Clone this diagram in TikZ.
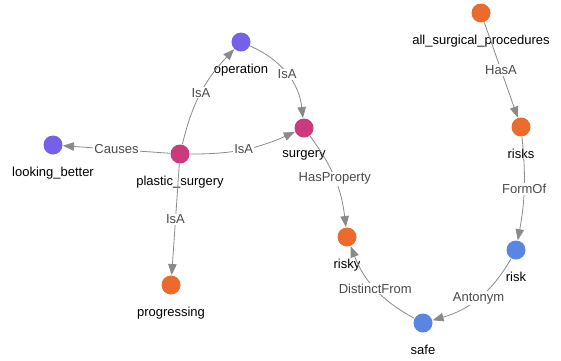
\documentclass[tikz,border=0pt]{standalone}
\usepackage{fontspec}
\setmainfont{Liberation Sans}
\usetikzlibrary{arrows.meta}
\definecolor{cpurple}{HTML}{7461E8}
\definecolor{cmagenta}{HTML}{CC3A7E}
\definecolor{corange}{HTML}{EB6A2E}
\definecolor{cblue}{HTML}{5886E2}
\definecolor{linegray}{HTML}{8A8A8A}
\definecolor{labgray}{HTML}{4A4A4A}
\tikzset{x=1pt,y=-1pt,
  concept/.style={circle,minimum size=19pt,inner sep=0pt,outer sep=0.5pt},
  every label/.style={font=\fontsize{13}{15}\selectfont,text=black},
  label distance=8.5pt,
  rel/.style={draw=linegray,line width=0.8pt,-{Triangle[length=11pt,width=8.5pt]}},
  rlab/.style={fill=white,inner sep=1pt,text=labgray,font=\fontsize{13}{15}\selectfont}}

\begin{document}
\begin{tikzpicture}
    \useasboundingbox (0,0) rectangle (561,360);
    \node[concept,fill=cpurple,label=below:operation] (operation) at (241,42) {};
    \node[concept,fill=cpurple,label=below:looking\_better] (looking) at (53,145) {};
    \node[concept,fill=cmagenta,label=below:plastic\_surgery] (plastic) at (180,154) {};
    \node[concept,fill=cmagenta,label=below:surgery] (surgery) at (304,128) {};
    \node[concept,fill=corange,label=below:progressing] (progressing) at (171,285) {};
    \node[concept,fill=corange,label=below:risky] (risky) at (347,237) {};
    \node[concept,fill=corange,label=below:all\_surgical\_procedures] (allproc) at (481,13) {};
    \node[concept,fill=corange,label=below:risks] (risks) at (521,127) {};
    \node[concept,fill=cblue,label=below:risk] (risk) at (516,250) {};
    \node[concept,fill=cblue,label=below:safe] (safe) at (423,323) {};
    \path
    (plastic) edge [rel,bend left=15] node[rlab] {IsA} (operation)
    (operation) edge [rel,bend left=30] node[rlab] {IsA} (surgery)
    (plastic) edge [rel,bend right=12] node[rlab] {IsA} (surgery)
    (plastic) edge [rel] node[rlab] {Causes} (looking)
    (plastic) edge [rel] node[rlab] {IsA} (progressing)
    (surgery) edge [rel,bend left=15] node[rlab] {HasProperty} (risky)
    (allproc) edge [rel] node[rlab] {HasA} (risks)
    (risks) edge [rel,bend left=8] node[rlab] {FormOf} (risk)
    (risk) edge [rel,bend left=22] node[rlab] {Antonym} (safe)
    (safe) edge [rel,bend left=20] node[rlab] {DistinctFrom} (risky)
    ;
\end{tikzpicture}
\end{document}
